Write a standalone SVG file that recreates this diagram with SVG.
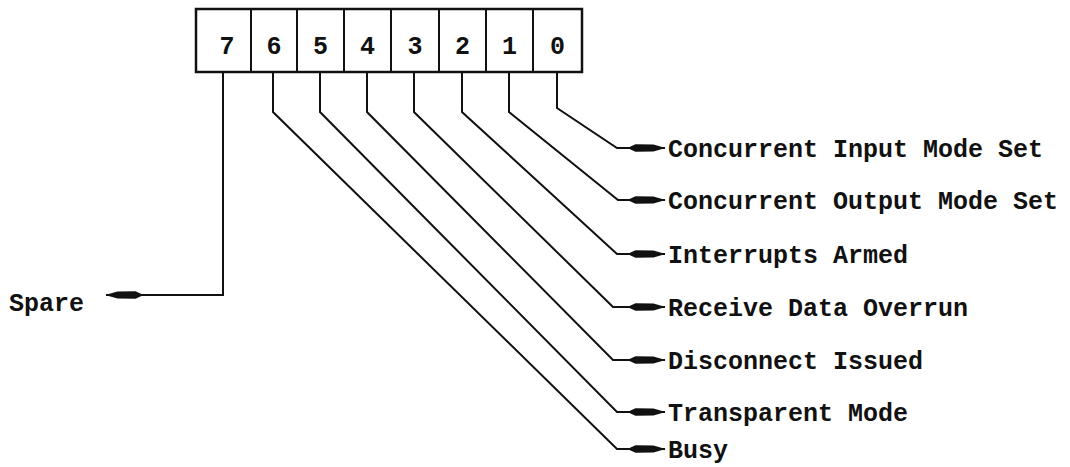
<svg xmlns="http://www.w3.org/2000/svg" width="1070" height="467" viewBox="0 0 1070 467">
  <style>
    .lbl { font-family: "Liberation Mono", "Courier New", monospace; font-size: 25px; font-weight: bold; fill: #111; }
    .dig { font-family: "Liberation Mono", "Courier New", monospace; font-size: 25px; font-weight: bold; fill: #111; text-anchor: middle; }
    .conn { fill: none; stroke: #111; stroke-width: 2; marker-end: url(#dart); }
  </style>
  <defs>
    <marker id="dart" viewBox="0 0 36 10" refX="35.5" refY="5" markerWidth="36" markerHeight="10" markerUnits="userSpaceOnUse" orient="auto">
      <path d="M0,4 L6,1.2 L24,1.4 L36,5 L24,8.6 L6,8.8 L0,6 Z" fill="#111"/>
    </marker>
  </defs>
  <rect width="1070" height="467" fill="#fff"/>

  <g id="register">
    <rect x="196" y="9" width="386" height="63" fill="#fff" stroke="#111" stroke-width="2.5"/>
    <g stroke="#111" stroke-width="2">
      <line x1="251" y1="9" x2="251" y2="72"/>
      <line x1="297" y1="9" x2="297" y2="72"/>
      <line x1="344" y1="9" x2="344" y2="72"/>
      <line x1="391" y1="9" x2="391" y2="72"/>
      <line x1="439" y1="9" x2="439" y2="72"/>
      <line x1="486" y1="9" x2="486" y2="72"/>
      <line x1="533" y1="9" x2="533" y2="72"/>
    </g>
  </g>
  <g id="bit7"><text class="dig" x="227" y="54">7</text></g>
  <g id="bit6"><text class="dig" x="274" y="54">6</text></g>
  <g id="bit5"><text class="dig" x="320.5" y="54">5</text></g>
  <g id="bit4"><text class="dig" x="367.5" y="54">4</text></g>
  <g id="bit3"><text class="dig" x="415" y="54">3</text></g>
  <g id="bit2"><text class="dig" x="462.5" y="54">2</text></g>
  <g id="bit1"><text class="dig" x="509.5" y="54">1</text></g>
  <g id="bit0"><text class="dig" x="557.5" y="54">0</text></g>

  <g id="connectors">
    <path class="conn" d="M223,72 V295 H106"/>
    <path class="conn" d="M273,72 V112 L617,449 H665"/>
    <path class="conn" d="M320,72 V112 L617,412 H665"/>
    <path class="conn" d="M367,72 V112 L613,360 H665"/>
    <path class="conn" d="M414,72 V112 L613,307 H665"/>
    <path class="conn" d="M462,72 V112 L617,254 H665"/>
    <path class="conn" d="M509,72 V112 L618,200 H665"/>
    <path class="conn" d="M557,72 V108 L617,148 H665"/>
  </g>

  <g id="label-spare"><text class="lbl" x="9" y="311">Spare</text></g>
  <g id="label-busy"><text class="lbl" x="668" y="458">Busy</text></g>
  <g id="label-transparent"><text class="lbl" x="668" y="421">Transparent Mode</text></g>
  <g id="label-disconnect"><text class="lbl" x="668" y="369">Disconnect Issued</text></g>
  <g id="label-overrun"><text class="lbl" x="668" y="316">Receive Data Overrun</text></g>
  <g id="label-interrupts"><text class="lbl" x="668" y="263">Interrupts Armed</text></g>
  <g id="label-output"><text class="lbl" x="668" y="209">Concurrent Output Mode Set</text></g>
  <g id="label-input"><text class="lbl" x="668" y="157">Concurrent Input Mode Set</text></g>
</svg>
